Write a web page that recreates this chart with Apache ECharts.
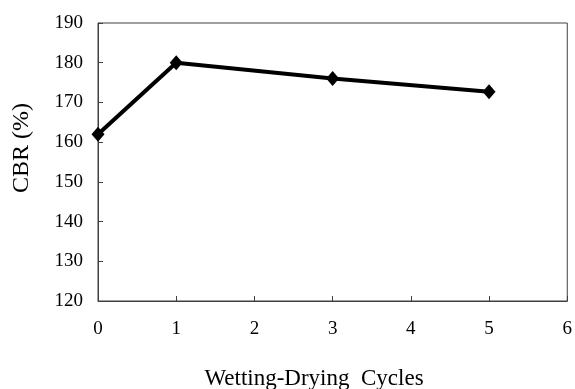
<!DOCTYPE html>
<html>
<head>
<meta charset="utf-8">
<script src="https://cdn.jsdelivr.net/npm/echarts@6/dist/echarts.min.js"></script>
<style>
    html, body { margin: 0; padding: 0; background: #fff; }
    #chart { width: 575px; height: 389px; }
</style>
</head>
<body>
<div id="chart"></div>
<script>
// cycles vs CBR values
var cycles = [0, 1, 3, 5];
var cbr = [162, 180, 176, 172.7];

var fontName = '"Liberation Serif", "DejaVu Serif", serif';
var axisColor = '#404040';

var points = [];
for (var i = 0; i < cycles.length; i++) {
    points.push([cycles[i], cbr[i]]);
}

var chart = echarts.init(document.getElementById('chart'));
chart.setOption({
    animation: false,
    backgroundColor: '#fff',
    grid: {
        left: 98,
        top: 23,
        right: 4,
        bottom: 88,
        show: true,
        borderColor: axisColor,
        borderWidth: 1
    },
    xAxis: {
        type: 'value',
        min: 0,
        max: 6,
        interval: 1,
        axisLine: { show: true, lineStyle: { color: axisColor, width: 1 } },
        axisTick: { show: true, inside: true, length: 5, lineStyle: { color: axisColor } },
        splitLine: { show: false },
        axisLabel: {
            margin: 19,
            color: '#000',
            fontFamily: fontName,
            fontSize: 19
        }
    },
    yAxis: {
        type: 'value',
        min: 120,
        max: 190,
        interval: 10,
        axisLine: { show: true, lineStyle: { color: axisColor, width: 1 } },
        axisTick: { show: true, inside: true, length: 5, lineStyle: { color: axisColor } },
        splitLine: { show: false },
        axisLabel: {
            margin: 15,
            color: '#000',
            fontFamily: fontName,
            fontSize: 19
        }
    },
    graphic: [
        {
            type: 'text',
            x: 314,
            y: 379,
            style: {
                text: 'Wetting-Drying  Cycles',
                fill: '#000',
                font: '23px ' + fontName,
                textAlign: 'center',
                textVerticalAlign: 'middle'
            }
        },
        {
            type: 'text',
            x: 22,
            y: 148,
            rotation: Math.PI / 2,
            style: {
                text: 'CBR (%)',
                fill: '#000',
                font: '24px ' + fontName,
                textAlign: 'center',
                textVerticalAlign: 'middle'
            }
        }
    ],
    series: [
        {
            type: 'line',
            data: points,
            symbol: 'diamond',
            symbolSize: [13, 15],
            lineStyle: { color: '#000', width: 4 },
            itemStyle: { color: '#000' }
        }
    ]
});
</script>
</body>
</html>
